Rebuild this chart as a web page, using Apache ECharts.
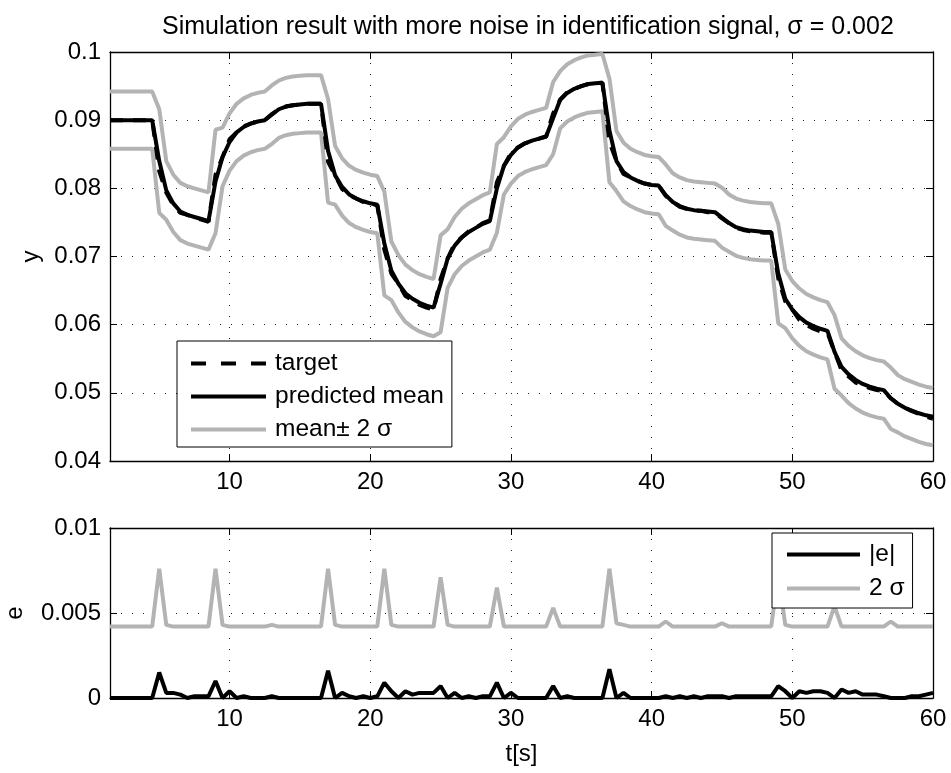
<!DOCTYPE html>
<html>
<head>
<meta charset="utf-8">
<script src="https://cdn.jsdelivr.net/npm/echarts@6/dist/echarts.min.js"></script>
<style>
  html, body { margin: 0; padding: 0; background: #fff; }
  #chart { width: 951px; height: 773px; }
</style>
</head>
<body>
<div id="chart"></div>
<script>
// time axis, 0.5 s samples
var T = [
  1.5, 2, 2.5, 3, 3.5, 4, 4.5,
  5, 5.5, 6, 6.5, 7, 7.5, 8, 8.5,
  9, 9.5, 10, 10.5, 11, 11.5, 12, 12.5,
  13, 13.5, 14, 14.5, 15, 15.5, 16, 16.5,
  17, 17.5, 18, 18.5, 19, 19.5, 20, 20.5,
  21, 21.5, 22, 22.5, 23, 23.5, 24, 24.5,
  25, 25.5, 26, 26.5, 27, 27.5, 28, 28.5,
  29, 29.5, 30, 30.5, 31, 31.5, 32, 32.5,
  33, 33.5, 34, 34.5, 35, 35.5, 36, 36.5,
  37, 37.5, 38, 38.5, 39, 39.5, 40, 40.5,
  41, 41.5, 42, 42.5, 43, 43.5, 44, 44.5,
  45, 45.5, 46, 46.5, 47, 47.5, 48, 48.5,
  49, 49.5, 50, 50.5, 51, 51.5, 52, 52.5,
  53, 53.5, 54, 54.5, 55, 55.5, 56, 56.5,
  57, 57.5, 58, 58.5, 59, 59.5, 60
];

var target = [
  0.0900, 0.0900, 0.0900, 0.0900, 0.0900, 0.0900, 0.0900,
  0.0825, 0.0794, 0.0775, 0.0764, 0.0761, 0.0757, 0.0754, 0.0751,
  0.0820, 0.0846, 0.0872, 0.0882, 0.0891, 0.0895, 0.0898, 0.0900,
  0.0909, 0.0916, 0.0920, 0.0922, 0.0923, 0.0924, 0.0924, 0.0924,
  0.0839, 0.0819, 0.0799, 0.0790, 0.0785, 0.0780, 0.0778, 0.0775,
  0.0710, 0.0675, 0.0660, 0.0642, 0.0636, 0.0629, 0.0625, 0.0622,
  0.0667, 0.0697, 0.0719, 0.0728, 0.0737, 0.0742, 0.0749, 0.0753,
  0.0809, 0.0833, 0.0852, 0.0860, 0.0866, 0.0870, 0.0873, 0.0876,
  0.0910, 0.0930, 0.0941, 0.0946, 0.0950, 0.0953, 0.0954, 0.0955,
  0.0868, 0.0840, 0.0821, 0.0816, 0.0811, 0.0807, 0.0805, 0.0804,
  0.0789, 0.0780, 0.0773, 0.0770, 0.0767, 0.0767, 0.0765, 0.0764,
  0.0756, 0.0749, 0.0742, 0.0739, 0.0737, 0.0736, 0.0735, 0.0735,
  0.0668, 0.0634, 0.0622, 0.0607, 0.0600, 0.0594, 0.0590, 0.0588,
  0.0560, 0.0533, 0.0524, 0.0515, 0.0511, 0.0507, 0.0504, 0.0503,
  0.0492, 0.0484, 0.0478, 0.0473, 0.0469, 0.0465, 0.0462
];

var predMean = [
  0.0900, 0.0900, 0.0900, 0.0900, 0.0900, 0.0900, 0.0900,
  0.0840, 0.0797, 0.0778, 0.0766, 0.0761, 0.0758, 0.0755, 0.0752,
  0.0810, 0.0846, 0.0868, 0.0882, 0.0890, 0.0895, 0.0898, 0.0900,
  0.0908, 0.0916, 0.0920, 0.0922, 0.0923, 0.0924, 0.0924, 0.0924,
  0.0855, 0.0819, 0.0802, 0.0791, 0.0785, 0.0781, 0.0778, 0.0776,
  0.0719, 0.0679, 0.0660, 0.0646, 0.0638, 0.0632, 0.0628, 0.0625,
  0.0660, 0.0697, 0.0716, 0.0728, 0.0736, 0.0742, 0.0748, 0.0752,
  0.0800, 0.0833, 0.0849, 0.0860, 0.0866, 0.0870, 0.0873, 0.0876,
  0.0903, 0.0930, 0.0940, 0.0946, 0.0950, 0.0953, 0.0954, 0.0955,
  0.0885, 0.0840, 0.0824, 0.0816, 0.0811, 0.0807, 0.0805, 0.0804,
  0.0790, 0.0780, 0.0774, 0.0770, 0.0768, 0.0767, 0.0766, 0.0765,
  0.0757, 0.0749, 0.0743, 0.0740, 0.0738, 0.0737, 0.0736, 0.0736,
  0.0675, 0.0638, 0.0622, 0.0611, 0.0603, 0.0598, 0.0594, 0.0591,
  0.0560, 0.0538, 0.0527, 0.0519, 0.0513, 0.0509, 0.0506, 0.0504,
  0.0492, 0.0484, 0.0478, 0.0474, 0.0470, 0.0467, 0.0465
];

var upperBand = [
  0.0942, 0.0942, 0.0942, 0.0942, 0.0942, 0.0942, 0.0942,
  0.0916, 0.0840, 0.0820, 0.0808, 0.0803, 0.0800, 0.0797, 0.0794,
  0.0886, 0.0889, 0.0910, 0.0924, 0.0932, 0.0937, 0.0940, 0.0942,
  0.0951, 0.0958, 0.0962, 0.0964, 0.0965, 0.0966, 0.0966, 0.0966,
  0.0931, 0.0862, 0.0844, 0.0833, 0.0827, 0.0823, 0.0820, 0.0818,
  0.0795, 0.0722, 0.0702, 0.0688, 0.0680, 0.0674, 0.0670, 0.0667,
  0.0731, 0.0740, 0.0758, 0.0770, 0.0778, 0.0784, 0.0790, 0.0794,
  0.0865, 0.0875, 0.0891, 0.0902, 0.0908, 0.0912, 0.0915, 0.0918,
  0.0956, 0.0972, 0.0982, 0.0988, 0.0992, 0.0995, 0.0996, 0.0997,
  0.0961, 0.0884, 0.0867, 0.0858, 0.0853, 0.0849, 0.0847, 0.0846,
  0.0835, 0.0822, 0.0816, 0.0812, 0.0810, 0.0809, 0.0808, 0.0807,
  0.0801, 0.0791, 0.0785, 0.0782, 0.0780, 0.0779, 0.0778, 0.0778,
  0.0748, 0.0681, 0.0664, 0.0653, 0.0645, 0.0640, 0.0636, 0.0633,
  0.0614, 0.0580, 0.0569, 0.0561, 0.0555, 0.0551, 0.0548, 0.0546,
  0.0537, 0.0526, 0.0520, 0.0516, 0.0512, 0.0509, 0.0507
];

var lowerBand = [
  0.0858, 0.0858, 0.0858, 0.0858, 0.0858, 0.0858, 0.0858,
  0.0764, 0.0754, 0.0736, 0.0724, 0.0719, 0.0716, 0.0713, 0.0710,
  0.0734, 0.0803, 0.0826, 0.0840, 0.0848, 0.0853, 0.0856, 0.0858,
  0.0865, 0.0874, 0.0878, 0.0880, 0.0881, 0.0882, 0.0882, 0.0882,
  0.0779, 0.0776, 0.0760, 0.0749, 0.0743, 0.0739, 0.0736, 0.0734,
  0.0643, 0.0636, 0.0618, 0.0604, 0.0596, 0.0590, 0.0586, 0.0583,
  0.0589, 0.0654, 0.0674, 0.0686, 0.0694, 0.0700, 0.0706, 0.0710,
  0.0735, 0.0791, 0.0807, 0.0818, 0.0824, 0.0828, 0.0831, 0.0834,
  0.0850, 0.0888, 0.0898, 0.0904, 0.0908, 0.0911, 0.0912, 0.0913,
  0.0809, 0.0796, 0.0781, 0.0774, 0.0769, 0.0765, 0.0763, 0.0762,
  0.0745, 0.0738, 0.0732, 0.0728, 0.0726, 0.0725, 0.0724, 0.0723,
  0.0713, 0.0707, 0.0701, 0.0698, 0.0696, 0.0695, 0.0694, 0.0694,
  0.0602, 0.0595, 0.0580, 0.0569, 0.0561, 0.0556, 0.0552, 0.0549,
  0.0506, 0.0496, 0.0485, 0.0477, 0.0471, 0.0467, 0.0464, 0.0462,
  0.0447, 0.0442, 0.0436, 0.0432, 0.0428, 0.0425, 0.0423
];

var absErr = [
  0, 0, 0, 0, 0, 0, 0,
  0.0015, 0.0003, 0.0003, 0.0002, 0, 0.0001, 0.0001, 0.0001,
  0.0010, 0, 0.0004, 0, 0.0001, 0, 0, 0,
  0.0001, 0, 0, 0, 0, 0, 0, 0,
  0.0016, 0, 0.0003, 0.0001, 0, 0.0001, 0, 0.0001,
  0.0009, 0.0004, 0, 0.0004, 0.0002, 0.0003, 0.0003, 0.0003,
  0.0007, 0, 0.0003, 0, 0.0001, 0, 0.0001, 0.0001,
  0.0009, 0, 0.0003, 0, 0, 0, 0, 0,
  0.0007, 0, 0.0001, 0, 0, 0, 0, 0,
  0.0017, 0, 0.0003, 0, 0, 0, 0, 0,
  0.0001, 0, 0.0001, 0, 0.0001, 0, 0.0001, 0.0001,
  0.0001, 0, 0.0001, 0.0001, 0.0001, 0.0001, 0.0001, 0.0001,
  0.0007, 0.0004, 0, 0.0004, 0.0003, 0.0004, 0.0004, 0.0003,
  0, 0.0005, 0.0003, 0.0004, 0.0002, 0.0002, 0.0002, 0.0001,
  0, 0, 0, 0.0001, 0.0001, 0.0002, 0.0003
];

var twoSigma = [
  0.0042, 0.0042, 0.0042, 0.0042, 0.0042, 0.0042, 0.0042,
  0.0076, 0.0043, 0.0042, 0.0042, 0.0042, 0.0042, 0.0042, 0.0042,
  0.0076, 0.0043, 0.0042, 0.0042, 0.0042, 0.0042, 0.0042, 0.0042,
  0.0043, 0.0042, 0.0042, 0.0042, 0.0042, 0.0042, 0.0042, 0.0042,
  0.0076, 0.0043, 0.0042, 0.0042, 0.0042, 0.0042, 0.0042, 0.0042,
  0.0076, 0.0043, 0.0042, 0.0042, 0.0042, 0.0042, 0.0042, 0.0042,
  0.0071, 0.0043, 0.0042, 0.0042, 0.0042, 0.0042, 0.0042, 0.0042,
  0.0065, 0.0042, 0.0042, 0.0042, 0.0042, 0.0042, 0.0042, 0.0042,
  0.0053, 0.0042, 0.0042, 0.0042, 0.0042, 0.0042, 0.0042, 0.0042,
  0.0076, 0.0044, 0.0043, 0.0042, 0.0042, 0.0042, 0.0042, 0.0042,
  0.0045, 0.0042, 0.0042, 0.0042, 0.0042, 0.0042, 0.0042, 0.0042,
  0.0044, 0.0042, 0.0042, 0.0042, 0.0042, 0.0042, 0.0042, 0.0042,
  0.0073, 0.0043, 0.0042, 0.0042, 0.0042, 0.0042, 0.0042, 0.0042,
  0.0054, 0.0042, 0.0042, 0.0042, 0.0042, 0.0042, 0.0042, 0.0042,
  0.0045, 0.0042, 0.0042, 0.0042, 0.0042, 0.0042, 0.0042
];

var FONT = '"Liberation Sans", Arial, Helvetica, sans-serif';
var GRAY = '#b3b3b3';

function pairs(arr) {
  return T.map(function (t, i) { return [t, arr[i]]; });
}

function fmt(v) {
  return String(+v.toFixed(4));
}

// one x axis (bottom with labels, or top as the box edge)
function xAx(grid, pos, withLabels, name) {
  return {
    gridIndex: grid, type: 'value', position: pos,
    min: 1.5, max: 60, splitNumber: 6,
    name: name || '', nameLocation: 'middle', nameGap: 44,
    nameTextStyle: { fontSize: 24, color: '#000', fontFamily: FONT },
    axisLine: { show: true, onZero: false, lineStyle: { color: '#000', width: 1.3 } },
    axisTick: { show: true, inside: true, length: 7, lineStyle: { color: '#000', width: 1 } },
    axisLabel: { show: withLabels, showMinLabel: false, margin: 9, fontSize: 24, color: '#000', fontFamily: FONT },
    splitLine: { show: withLabels, lineStyle: { color: '#222', type: [1, 10], width: 1 } }
  };
}

function yAx(grid, pos, withLabels, min, max, step, name, gap) {
  return {
    gridIndex: grid, type: 'value', position: pos,
    min: min, max: max, interval: step,
    name: name || '', nameLocation: 'middle', nameGap: gap || 0,
    nameTextStyle: { fontSize: 24, color: '#000', fontFamily: FONT },
    axisLine: { show: true, onZero: false, lineStyle: { color: '#000', width: 1.3 } },
    axisTick: { show: true, inside: true, length: 7, lineStyle: { color: '#000', width: 1 } },
    axisLabel: { show: withLabels, margin: 9, fontSize: 24, color: '#000', fontFamily: FONT, formatter: fmt },
    splitLine: { show: withLabels, lineStyle: { color: '#222', type: [1, 10], width: 1 } }
  };
}

var chart = echarts.init(document.getElementById('chart'));

var option = {
  animation: false,
  backgroundColor: '#fff',
  title: {
    text: 'Simulation result with more noise in identification signal, \u03c3 = 0.002',
    left: 157, top: 10,
    textStyle: { fontSize: 25, fontWeight: 'normal', color: '#000', fontFamily: FONT }
  },
  grid: [
    { left: 110, top: 52, width: 823, height: 409, outerBoundsMode: 'none', containLabel: false },
    { left: 110, top: 528, width: 823, height: 170, outerBoundsMode: 'none', containLabel: false }
  ],
  xAxis: [
    xAx(0, 'bottom', true),
    xAx(0, 'top', false),
    xAx(1, 'bottom', true, 't[s]'),
    xAx(1, 'top', false)
  ],
  yAxis: [
    yAx(0, 'left', true, 0.04, 0.1, 0.01, 'y', 66),
    yAx(0, 'right', false, 0.04, 0.1, 0.01),
    yAx(1, 'left', true, 0, 0.01, 0.005, 'e', 83),
    yAx(1, 'right', false, 0, 0.01, 0.005)
  ],
  legend: [
    {
      orient: 'vertical', left: 177, top: 341,
      padding: [10, 8, 5, 14], itemGap: 8,
      itemWidth: 75, itemHeight: 4,
      borderColor: '#000', borderWidth: 1, backgroundColor: '#fff',
      textStyle: { fontSize: 24.5, color: '#000', fontFamily: FONT, padding: [0, 0, 0, 4] },
      data: [
        { name: 'target', icon: 'path://M0,0h15v4h-15zM30,0h15v4h-15zM60,0h15v4h-15z' },
        { name: 'predicted mean', icon: 'rect' },
        { name: 'mean\u00b1 2 \u03c3', icon: 'rect' }
      ]
    },
    {
      orient: 'vertical', left: 772, top: 533,
      padding: [9, 8, 7, 15], itemGap: 9,
      itemWidth: 73, itemHeight: 4,
      borderColor: '#000', borderWidth: 1, backgroundColor: '#fff',
      textStyle: { fontSize: 24.5, color: '#000', fontFamily: FONT, padding: [0, 0, 0, 4] },
      data: [
        { name: '|e|', icon: 'rect' },
        { name: '2 \u03c3', icon: 'rect' }
      ]
    }
  ],
  series: [
    {
      name: 'mean\u00b1 2 \u03c3', type: 'line', xAxisIndex: 0, yAxisIndex: 0,
      data: pairs(upperBand), symbol: 'none', color: GRAY,
      lineStyle: { color: GRAY, width: 4 }
    },
    {
      name: 'mean\u00b1 2 \u03c3', type: 'line', xAxisIndex: 0, yAxisIndex: 0,
      data: pairs(lowerBand), symbol: 'none', color: GRAY,
      lineStyle: { color: GRAY, width: 4 }
    },
    {
      name: 'target', type: 'line', xAxisIndex: 0, yAxisIndex: 0,
      data: pairs(target), symbol: 'none', color: '#000',
      lineStyle: { color: '#000', width: 4, type: [13, 10] }
    },
    {
      name: 'predicted mean', type: 'line', xAxisIndex: 0, yAxisIndex: 0,
      data: pairs(predMean), symbol: 'none', color: '#000',
      lineStyle: { color: '#000', width: 4 }
    },
    {
      name: '|e|', type: 'line', xAxisIndex: 2, yAxisIndex: 2,
      data: pairs(absErr), symbol: 'none', color: '#000',
      lineStyle: { color: '#000', width: 4 }
    },
    {
      name: '2 \u03c3', type: 'line', xAxisIndex: 2, yAxisIndex: 2,
      data: pairs(twoSigma), symbol: 'none', color: GRAY,
      lineStyle: { color: GRAY, width: 4 }
    }
  ]
};

chart.setOption(option);
</script>
</body>
</html>
